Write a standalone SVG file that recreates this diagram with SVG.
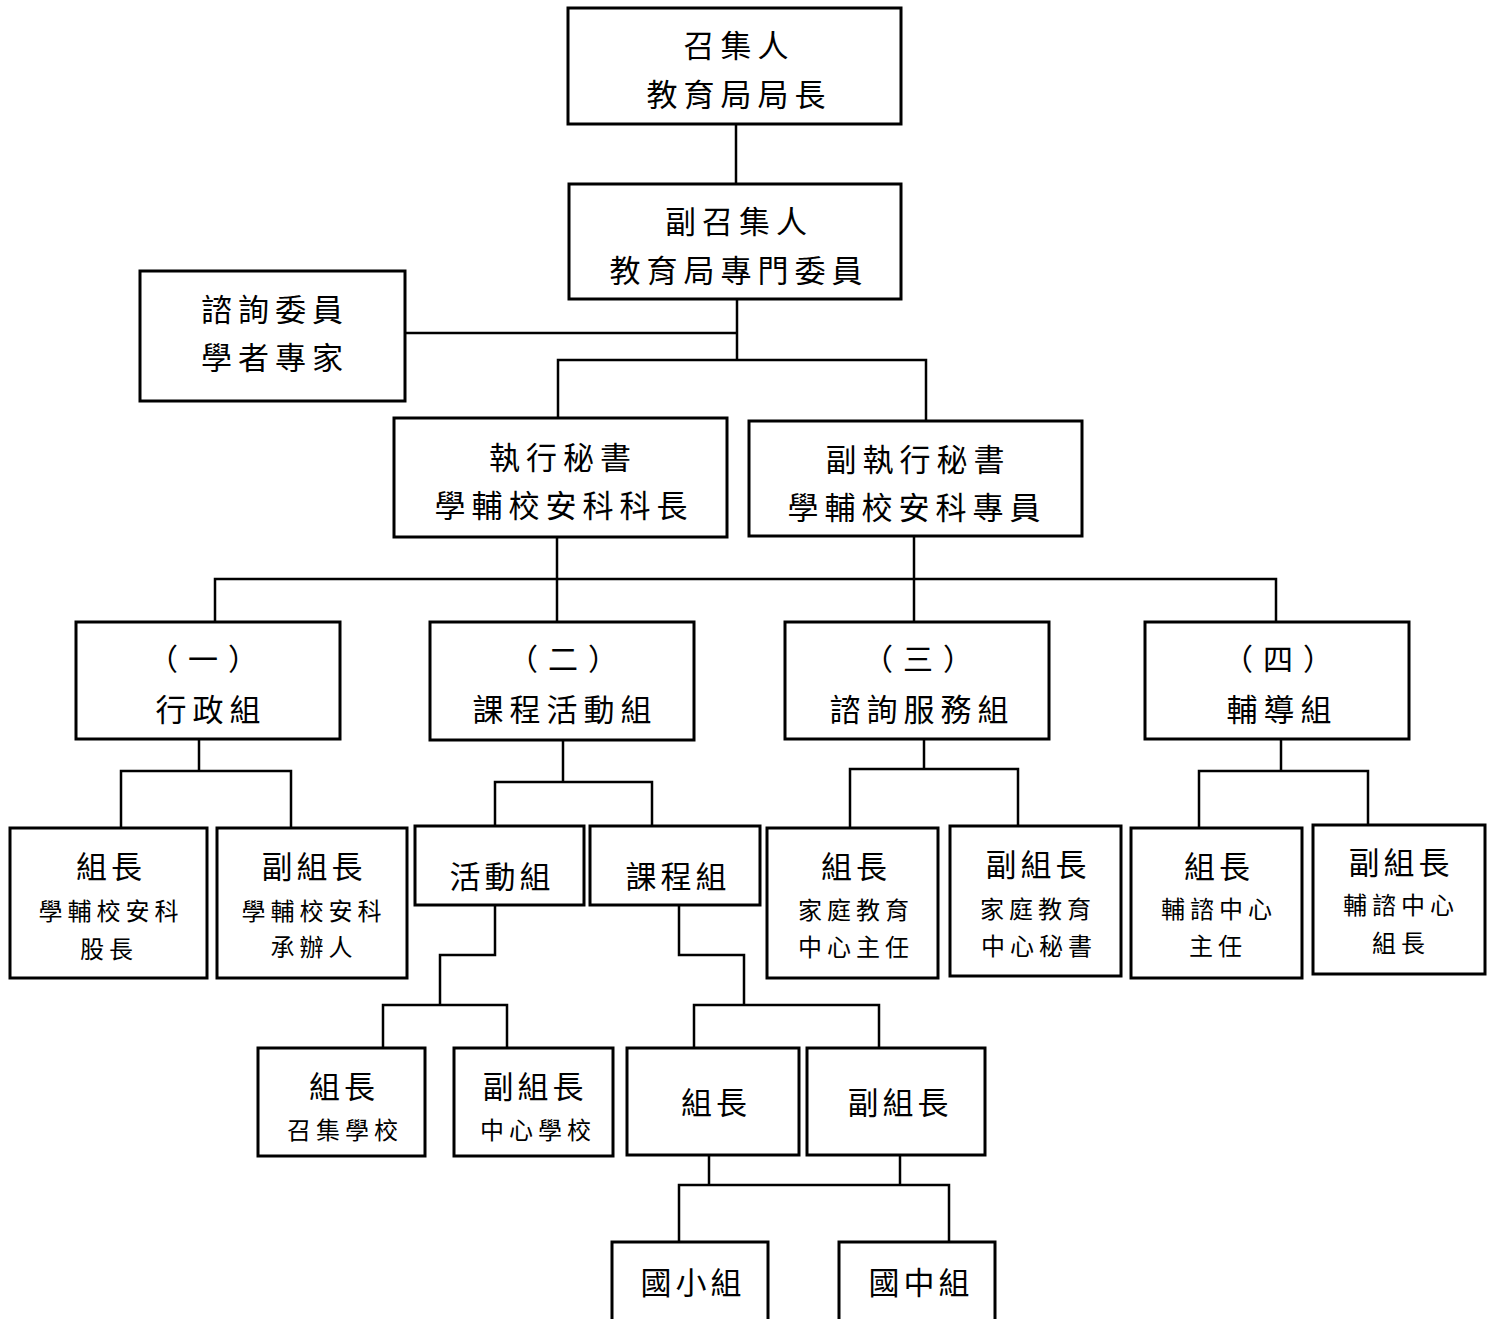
<svg xmlns="http://www.w3.org/2000/svg" width="1496" height="1319" viewBox="0 0 1496 1319">
<style>
rect{fill:#fff;stroke:#000;stroke-width:3}
.c line,.c polyline{stroke:#000;stroke-width:2.5;fill:none}
text{font-family:"Noto Sans CJK TC","Noto Sans CJK SC",sans-serif;fill:#000;text-anchor:middle;dominant-baseline:central}
.L{font-size:31px;letter-spacing:6px}
.M{font-size:31px;letter-spacing:4px}
.S{font-size:24px;letter-spacing:5px}
.P{font-size:30px;letter-spacing:10px}
</style>
<rect width="1496" height="1319" style="fill:#fff;stroke:none"/>
<g class="c" id="connectors">
<line x1="736" y1="124" x2="736" y2="184"/>
<line x1="737" y1="299" x2="737" y2="360"/>
<line x1="405" y1="333" x2="737" y2="333"/>
<polyline points="558,418 558,360 926,360 926,421"/>
<line x1="557" y1="537" x2="557" y2="622"/>
<line x1="914" y1="536" x2="914" y2="622"/>
<polyline points="215,622 215,579 1276,579 1276,622"/>
<line x1="199" y1="739" x2="199" y2="771"/>
<polyline points="121,828 121,771 291,771 291,828"/>
<line x1="563" y1="740" x2="563" y2="782"/>
<polyline points="495,826 495,782 652,782 652,826"/>
<polyline points="495,905 495,955 440,955 440,1005"/>
<polyline points="383,1048 383,1005 507,1005 507,1048"/>
<polyline points="679,905 679,955 744,955 744,1005"/>
<polyline points="694,1048 694,1005 879,1005 879,1048"/>
<line x1="709" y1="1155" x2="709" y2="1185"/>
<line x1="900" y1="1155" x2="900" y2="1185"/>
<polyline points="679,1242 679,1185 949,1185 949,1242"/>
<line x1="924" y1="739" x2="924" y2="769"/>
<polyline points="850,828 850,769 1018,769 1018,826"/>
<line x1="1281" y1="739" x2="1281" y2="771"/>
<polyline points="1199,828 1199,771 1368,771 1368,825"/>
</g>
<g id="n-convener"><rect x="568" y="8" width="333" height="116"/><text class="L" x="739" y="43">召集人</text><text class="L" x="739" y="92">教育局局長</text></g>
<g id="n-deputy"><rect x="569" y="184" width="332" height="115"/><text class="L" x="739" y="219">副召集人</text><text class="L" x="739" y="268">教育局專門委員</text></g>
<g id="n-advisor"><rect x="140" y="271" width="265" height="130"/><text class="L" x="275" y="307">諮詢委員</text><text class="L" x="275" y="355">學者專家</text></g>
<g id="n-exec"><rect x="394" y="418" width="333" height="119"/><text class="L" x="563" y="455">執行秘書</text><text class="L" x="564" y="503">學輔校安科科長</text></g>
<g id="n-vexec"><rect x="749" y="421" width="333" height="115"/><text class="L" x="918" y="457">副執行秘書</text><text class="L" x="917" y="505">學輔校安科專員</text></g>
<g id="n-g1"><rect x="76" y="622" width="264" height="117"/><text class="P" x="208" y="657">（一）</text><text class="L" x="211" y="707">行政組</text></g>
<g id="n-g2"><rect x="430" y="622" width="264" height="118"/><text class="P" x="568" y="657">（二）</text><text class="L" x="565" y="707">課程活動組</text></g>
<g id="n-g3"><rect x="785" y="622" width="264" height="117"/><text class="P" x="923" y="657">（三）</text><text class="L" x="922" y="707">諮詢服務組</text></g>
<g id="n-g4"><rect x="1145" y="622" width="264" height="117"/><text class="P" x="1283" y="657">（四）</text><text class="L" x="1282" y="707">輔導組</text></g>
<g id="n-g1a"><rect x="10" y="828" width="197" height="150"/><text class="M" x="111" y="864">組長</text><text class="S" x="111" y="909">學輔校安科</text><text class="S" x="109" y="947">股長</text></g>
<g id="n-g1b"><rect x="217" y="828" width="190" height="150"/><text class="M" x="314" y="864">副組長</text><text class="S" x="314" y="909">學輔校安科</text><text class="S" x="314" y="945">承辦人</text></g>
<g id="n-act"><rect x="415" y="826" width="169" height="79"/><text class="M" x="502" y="874">活動組</text></g>
<g id="n-cur"><rect x="590" y="826" width="170" height="79"/><text class="M" x="678" y="874">課程組</text></g>
<g id="n-act-a"><rect x="258" y="1048" width="167" height="108"/><text class="M" x="344" y="1084">組長</text><text class="S" x="345" y="1128">召集學校</text></g>
<g id="n-act-b"><rect x="454" y="1048" width="159" height="108"/><text class="M" x="535" y="1084">副組長</text><text class="S" x="538" y="1128">中心學校</text></g>
<g id="n-cur-a"><rect x="627" y="1048" width="172" height="107"/><text class="M" x="716" y="1100">組長</text></g>
<g id="n-cur-b"><rect x="807" y="1048" width="178" height="107"/><text class="M" x="900" y="1100">副組長</text></g>
<g id="n-ele"><rect x="612" y="1242" width="156" height="90"/><text class="M" x="693" y="1280">國小組</text></g>
<g id="n-jun"><rect x="839" y="1242" width="156" height="90"/><text class="M" x="921" y="1280">國中組</text></g>
<g id="n-g3a"><rect x="767" y="828" width="171" height="150"/><text class="M" x="856" y="864">組長</text><text class="S" x="856" y="908">家庭教育</text><text class="S" x="856" y="945">中心主任</text></g>
<g id="n-g3b"><rect x="950" y="826" width="171" height="150"/><text class="M" x="1038" y="862">副組長</text><text class="S" x="1038" y="907">家庭教育</text><text class="S" x="1039" y="944">中心秘書</text></g>
<g id="n-g4a"><rect x="1131" y="828" width="171" height="150"/><text class="M" x="1219" y="864">組長</text><text class="S" x="1219" y="907">輔諮中心</text><text class="S" x="1218" y="944">主任</text></g>
<g id="n-g4b"><rect x="1313" y="825" width="172" height="149"/><text class="M" x="1401" y="860">副組長</text><text class="S" x="1401" y="903">輔諮中心</text><text class="S" x="1401" y="941">組長</text></g>
</svg>
